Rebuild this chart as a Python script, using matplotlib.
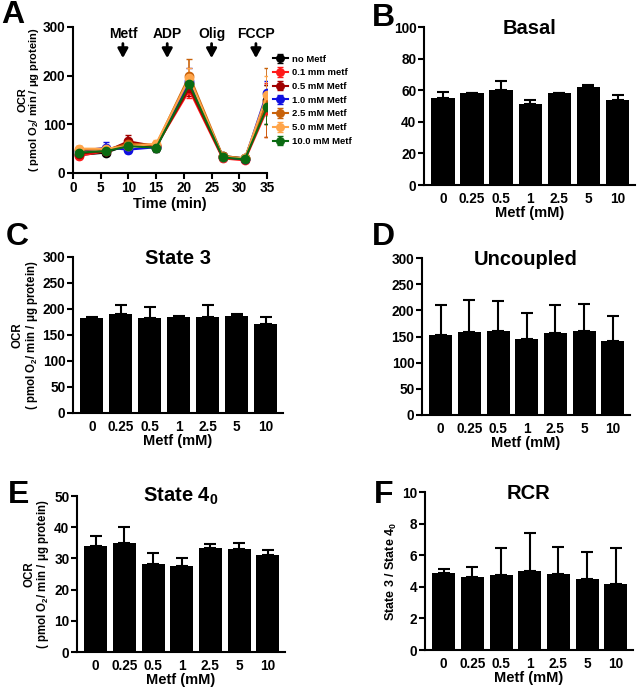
import matplotlib
matplotlib.use("Agg")
import matplotlib.pyplot as plt
import numpy as np

plt.rcParams['font.family'] = ['Liberation Sans', 'DejaVu Sans']
plt.rcParams['font.weight'] = 'bold'
plt.rcParams['axes.labelweight'] = 'bold'
plt.rcParams['mathtext.default'] = 'regular'
plt.rcParams['axes.linewidth'] = 1.5
plt.rcParams['xtick.major.width'] = 1.5
plt.rcParams['ytick.major.width'] = 1.5

# ---------------- data ----------------
time_min = [1, 6, 10, 15, 21, 27, 31, 35]
series_labels = ["no Metf", "0.1 mm metf", "0.5 mM Metf", "1.0 mM Metf",
                 "2.5 mM Metf", "5.0 mM Metf", "10.0 mM Metf"]
series_colors = ["#000000", "#ff1a1a", "#a00000", "#1010e0",
                 "#c8620a", "#ffa54a", "#0b6b12"]
ocr_no   = [37, 42, 58, 52, 185, 35, 30, 150]
ocr_01   = [35, 45, 62, 55, 170, 30, 26, 130]
ocr_05   = [40, 45, 65, 55, 175, 32, 28, 140]
ocr_10   = [45, 52, 48, 53, 190, 33, 28, 165]
ocr_25   = [48, 48, 60, 58, 200, 35, 30, 145]
ocr_50   = [50, 50, 55, 60, 195, 33, 30, 160]
ocr_100  = [42, 45, 55, 52, 182, 32, 28, 135]
err_no   = [6, 5, 6, 8, 18, 5, 4, 30]
err_01   = [6, 5, 8, 6, 15, 5, 4, 55]
err_05   = [6, 6, 14, 6, 16, 6, 4, 40]
err_10   = [6, 12, 6, 5, 25, 5, 4, 25]
err_25   = [8, 6, 10, 6, 35, 6, 5, 70]
err_50   = [6, 6, 8, 8, 20, 5, 4, 40]
err_100  = [6, 5, 6, 6, 15, 5, 4, 35]
series_values = [ocr_no, ocr_01, ocr_05, ocr_10, ocr_25, ocr_50, ocr_100]
series_errors = [err_no, err_01, err_05, err_10, err_25, err_50, err_100]

injections = ["Metf", "ADP", "Olig", "FCCP"]
injection_times = [9, 17, 25, 33]

metf_labels = ["0", "0.25", "0.5", "1", "2.5", "5", "10"]
basal_mean = [55, 58, 60, 51, 58, 62, 54]
basal_err  = [4, 0.5, 6, 3, 0.5, 1, 3]
state3_mean = [183, 190, 183, 184, 184, 187, 172]
state3_err  = [1, 17, 21, 2, 23, 4, 12]
uncoupled_mean = [152, 158, 160, 145, 157, 160, 142]
uncoupled_err  = [59, 62, 58, 49, 54, 53, 48]
state4_mean = [34, 35, 28.2, 27.7, 33.2, 33, 31.2]
state4_err  = [3.2, 5, 3.5, 2.3, 1.5, 1.8, 1.6]
rcr_mean = [4.85, 4.6, 4.75, 5.0, 4.8, 4.5, 4.15]
rcr_err  = [0.3, 0.65, 1.7, 2.4, 1.75, 1.7, 2.3]

W, H = 637, 690
fig = plt.figure(figsize=(W / 100, H / 100), dpi=100)


def px_axes(left, right, top, bottom):
    return fig.add_axes([left / W, 1 - bottom / H, (right - left) / W, (bottom - top) / H])


def style(ax):
    for s in ['top', 'right']:
        ax.spines[s].set_visible(False)
    ax.tick_params(labelsize=9.8, length=4, width=1.5, pad=1.5)
    for lab in ax.get_xticklabels() + ax.get_yticklabels():
        lab.set_fontweight('bold')


ocr_label = "OCR\n( pmol O$_2$/ min / μg protein)"

# ---------------- Panel A ----------------
axA = px_axes(73, 267, 27, 173)
for vals, errs, col, lab in zip(series_values, series_errors, series_colors, series_labels):
    axA.errorbar(time_min, vals, yerr=errs, color=col, marker='o', ms=6,
                 lw=1.5, capsize=2.5, elinewidth=1.2, label=lab)
axA.set_xlim(0, 35)
axA.set_ylim(0, 300)
axA.set_xticks(range(0, 36, 5))
axA.set_yticks([0, 100, 200, 300])
axA.set_xlabel("Time (min)", fontsize=10.5, fontweight='bold', labelpad=1)
axA.set_ylabel(ocr_label, fontsize=8, fontweight='bold', labelpad=1, linespacing=1.0)
style(axA)
axA.tick_params(axis='x', pad=2)
for name, t in zip(injections, injection_times):
    axA.annotate("", xy=(t, 236), xytext=(t, 266),
                 arrowprops=dict(arrowstyle='-|>,head_length=0.55,head_width=0.3',
                                 color='black', lw=2, mutation_scale=10,
                                 shrinkA=0, shrinkB=0))
    axA.text(t, 272, name, ha='center', va='bottom', fontsize=10, fontweight='bold')
leg = axA.legend(loc='upper left', bbox_to_anchor=(1.0, 0.85), frameon=False,
                 fontsize=6.8, handlelength=1.6, handletextpad=0.5,
                 labelspacing=0.5, borderaxespad=0.2, markerscale=0.9)
for t in leg.get_texts():
    t.set_fontweight('bold')

# ---------------- bar panels ----------------
x = np.arange(len(metf_labels))


def bar_panel(ax, means, errs, title, ylim, yticks, ylabel=None, ylabel_size=8.3):
    ax.bar(x, means, width=0.8, color='black',
           yerr=[np.zeros(len(errs)), errs], capsize=4,
           error_kw=dict(elinewidth=1.5, capthick=1.5, ecolor='black'))
    ax.set_xlim(-0.65, 6.6)
    ax.set_ylim(*ylim)
    ax.set_yticks(yticks)
    ax.set_xticks(x)
    ax.set_xticklabels(metf_labels)
    style(ax)
    ax.tick_params(axis='x', length=0, pad=5)
    ax.set_xlabel("Metf (mM)", fontsize=10.5, fontweight='bold', labelpad=0)
    ax.text(0.5, 0.93, title, transform=ax.transAxes, ha='center', va='bottom',
            fontsize=14.5, fontweight='bold')
    if ylabel:
        ax.set_ylabel(ylabel, fontsize=ylabel_size, fontweight='bold', labelpad=2,
                      linespacing=1.0)


axB = px_axes(424, 635, 27, 185)
bar_panel(axB, basal_mean, basal_err, "Basal", (0, 100), range(0, 101, 20))

axC = px_axes(73, 283, 257, 413)
bar_panel(axC, state3_mean, state3_err, "State 3", (0, 300), range(0, 301, 50), ocr_label)

axD = px_axes(422, 630, 258, 415)
bar_panel(axD, uncoupled_mean, uncoupled_err, "Uncoupled", (0, 300), range(0, 301, 50))

axE = px_axes(77, 285, 496, 652)
bar_panel(axE, state4_mean, state4_err, "State 4$_0$", (0, 50), range(0, 51, 10), ocr_label)

axF = px_axes(425, 633, 492, 650)
bar_panel(axF, rcr_mean, rcr_err, "RCR", (0, 10), range(0, 11, 2),
          "State 3 / State 4$_0$", ylabel_size=9)

# ---------------- panel letters ----------------
for letter, xp, yp in [("A", 1, 23), ("B", 372, 26), ("C", 6, 245),
                       ("D", 372, 245), ("E", 8, 503), ("F", 374, 503)]:
    fig.text(xp / W, 1 - yp / H, letter, fontsize=23, fontweight='bold',
             ha='left', va='baseline')

fig.savefig("out.png", dpi=100)
